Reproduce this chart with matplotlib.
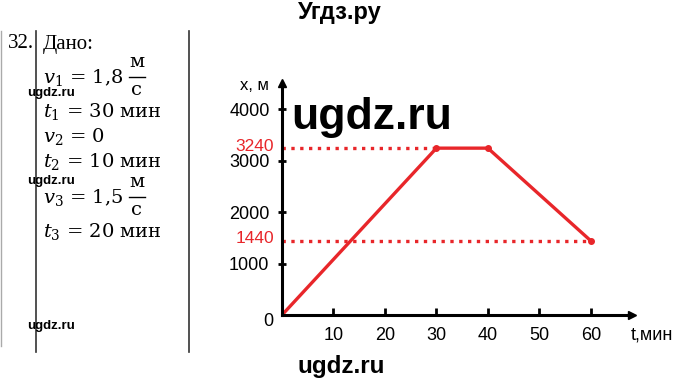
import numpy as np
import matplotlib
matplotlib.use('Agg')
import matplotlib.pyplot as plt
from matplotlib.lines import Line2D

# Data
t_min = [0, 30, 40, 60]
x_m = [0, 3240, 3240, 1440]
x_ticks = [10, 20, 30, 40, 50, 60]
y_ticks = [1000, 2000, 3000, 4000]
marked_levels = [3240, 1440]
marked_ends = [30, 60]

given_lines = [
    ('$v_1$ = 1,8', True),
    ('$t_1$ = 30 мин', False),
    ('$v_2$ = 0', False),
    ('$t_2$ = 10 мин', False),
    ('$v_3$ = 1,5', True),
    ('$t_3$ = 20 мин', False),
]
given_y = [77, 112, 137, 162, 197, 232]

W, H = 680, 384
RED = '#e8262a'

plt.rcParams['mathtext.fontset'] = 'custom'
plt.rcParams['mathtext.rm'] = 'DejaVu Serif'
plt.rcParams['mathtext.it'] = 'DejaVu Serif:italic'

fig = plt.figure(figsize=(6.8, 3.84), dpi=100)


def fx(px):
    return px / W


def fy(py):
    return 1 - py / H


# # # # # # # # # # # # # # # #
#      Left "given" panel     #
# # # # # # # # # # # # # # # #
fig.add_artist(Line2D([fx(1), fx(1)], [fy(31), fy(346)], color='#aaaaaa', lw=1))
fig.add_artist(Line2D([fx(36), fx(36)], [fy(31), fy(352)], color='#333333', lw=1.2))
fig.add_artist(Line2D([fx(189), fx(189)], [fy(31), fy(352)], color='#333333', lw=1.2))

fig.text(fx(8), fy(44), '32.', family='Liberation Serif', fontsize=15, va='center')
fig.text(fx(43), fy(44), 'Дано:', family='Liberation Serif', fontsize=15, va='center')

for (line, has_frac), py in zip(given_lines, given_y):
    fig.text(fx(43), fy(py), line, family='DejaVu Serif', fontsize=14,
             va='center')
    if has_frac:
        fig.text(fx(137), fy(py - 15), 'м', family='DejaVu Serif',
                 fontsize=14, ha='center', va='center')
        fig.add_artist(Line2D([fx(129), fx(145)], [fy(py), fy(py)],
                              color='black', lw=1))
        fig.text(fx(137), fy(py + 13), 'с', family='DejaVu Serif',
                 fontsize=14, ha='center', va='center')

# # # # # # # # # # # # # # # #
#          The chart          #
# # # # # # # # # # # # # # # #
ax = fig.add_axes([fx(282), fy(315), fx(632) - fx(282), (315 - 83) / H])
ax.set_xlim(0, 68)
ax.set_ylim(0, 4505)
ax.patch.set_alpha(0)
for side in ['top', 'right']:
    ax.spines[side].set_visible(False)
for side in ['left', 'bottom']:
    ax.spines[side].set_linewidth(2.2)
ax.plot(1, 0, '>k', ms=6, transform=ax.transAxes, clip_on=False)
ax.plot(0, 1, '^k', ms=6, transform=ax.transAxes, clip_on=False)

for level, end in zip(marked_levels, marked_ends):
    ax.plot([0, end], [level, level], ':', color=RED, lw=2.4)
ax.plot(t_min, x_m, '-', color=RED, lw=2.4, solid_capstyle='round')
ax.plot(t_min[1:], x_m[1:], 'o', color=RED, ms=4)

ax.set_xticks(x_ticks)
ax.set_xticklabels([str(v) for v in x_ticks], family='Liberation Sans', fontsize=13)
ax.set_yticks(y_ticks)
ax.set_yticklabels([str(v) for v in y_ticks], family='Liberation Sans', fontsize=13)
ax.tick_params(axis='x', direction='in', length=5, width=2, pad=9)
ax.tick_params(axis='y', direction='inout', length=6, width=2, pad=6)

for level in marked_levels:
    ax.text(-1.6, level + 40, str(level), color=RED, family='Liberation Sans',
            fontsize=12.5, ha='right', va='center')
fig.text(fx(268), fy(321), '0', family='Liberation Sans', fontsize=13,
         ha='center', va='center')
fig.text(fx(254), fy(85), 'x, м', family='Liberation Sans', fontsize=12,
         ha='center', va='center')
fig.text(fx(652), fy(335), 't,мин', family='Liberation Sans', fontsize=13,
         ha='center', va='center')

# # # # # # # # # # # # # # # #
#         Watermarks          #
# # # # # # # # # # # # # # # #
fig.text(fx(340), fy(13), 'Угдз.ру', family='Liberation Sans', weight='bold',
         fontsize=17, ha='center', va='center')
fig.text(fx(372), fy(118), 'ugdz.ru', family='Liberation Sans', weight='bold',
         fontsize=32, ha='center', va='center')
fig.text(fx(341), fy(366), 'ugdz.ru', family='Liberation Sans', weight='bold',
         fontsize=17.5, ha='center', va='center')
for py in [93, 181, 326]:
    fig.text(fx(51), fy(py), 'ugdz.ru', family='Liberation Sans',
             weight='bold', fontsize=9.5, ha='center', va='center')

fig.savefig('out.png', dpi=100)
